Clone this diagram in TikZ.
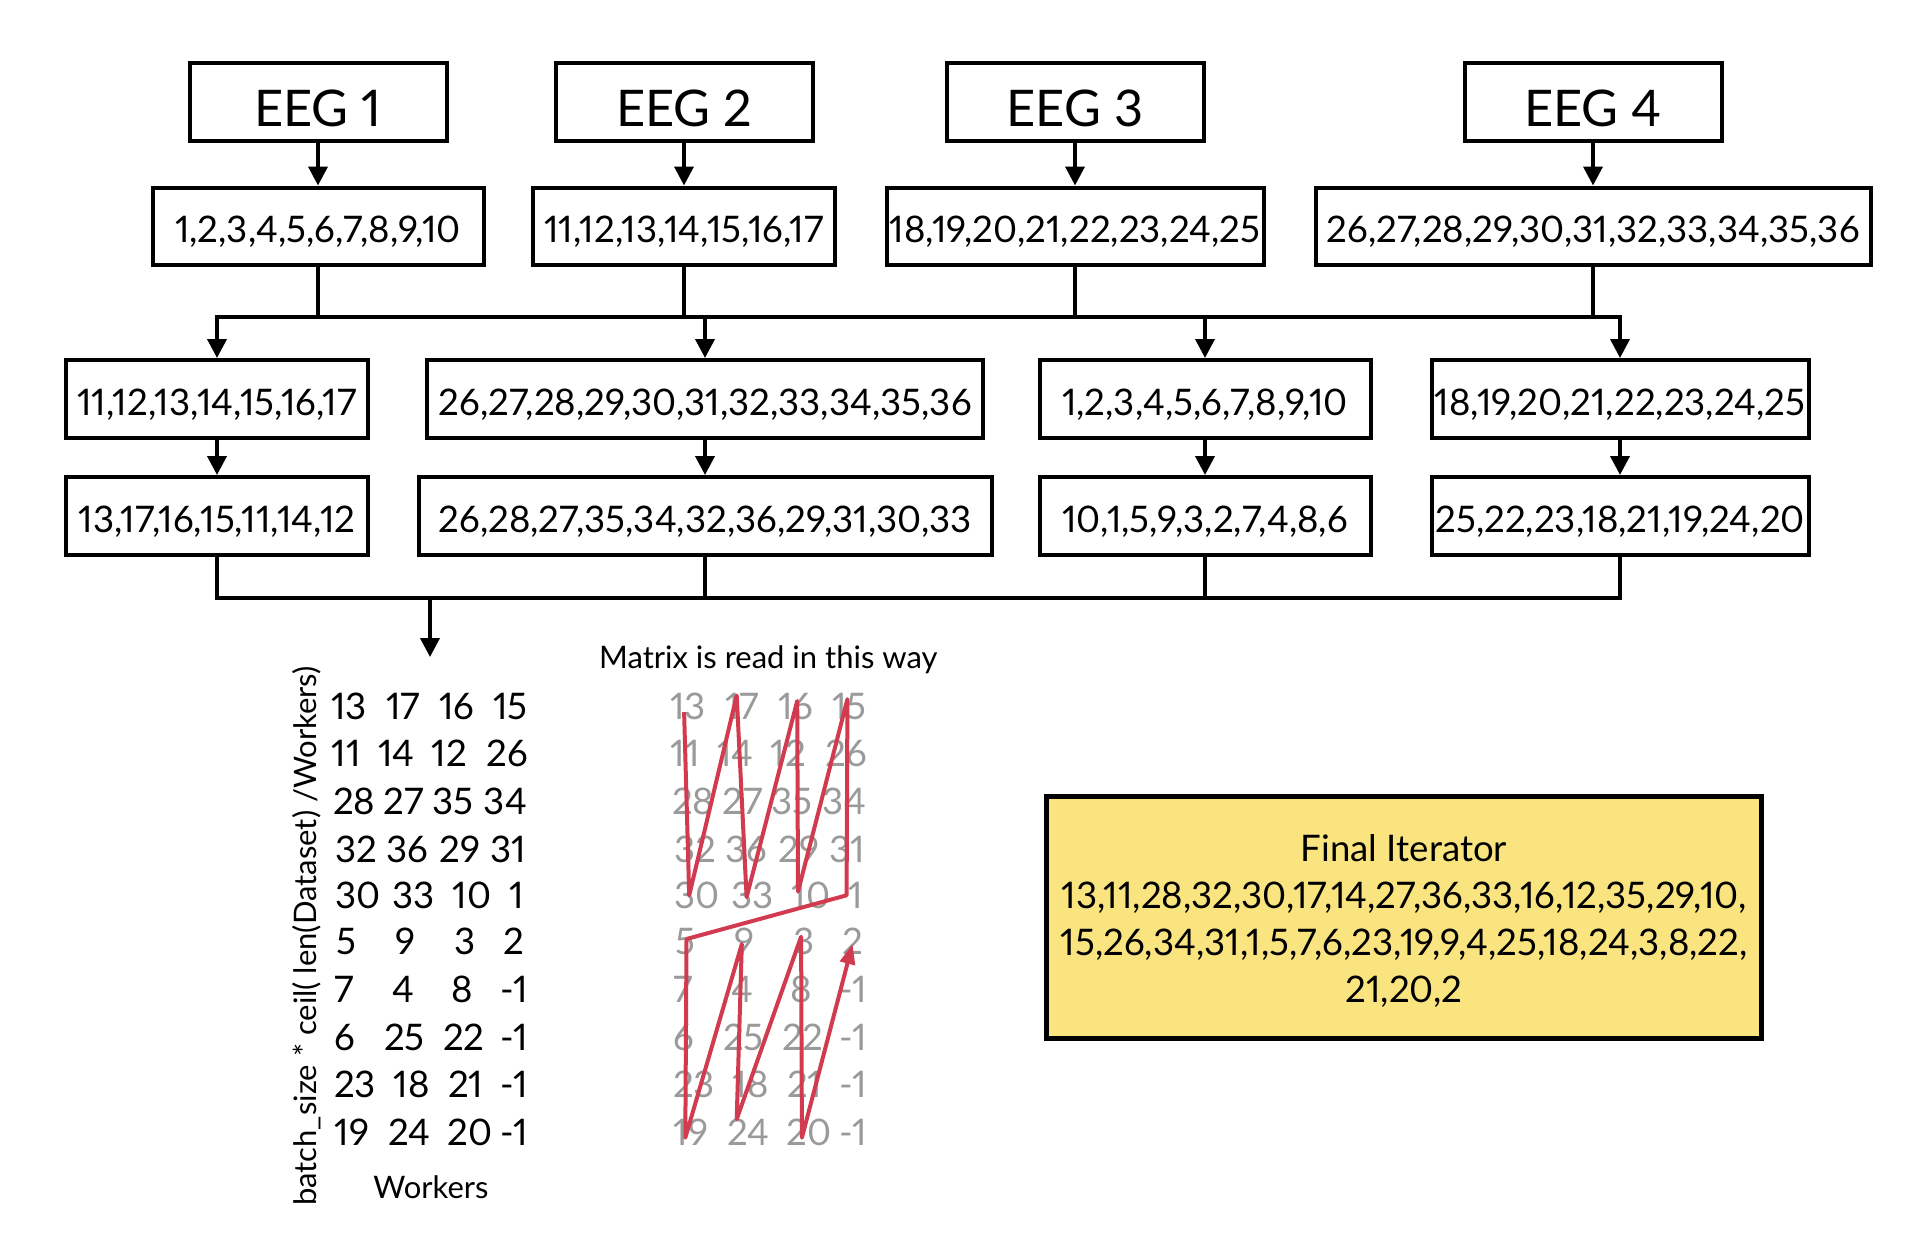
\documentclass[tikz,border=0pt]{standalone}
\usepackage{fontspec}
\setmainfont[Numbers=Proportional]{Lato}
\usetikzlibrary{arrows.meta,calc}
\definecolor{boxyellow}{HTML}{FAE47F}
\definecolor{readred}{HTML}{D23A4F}
\definecolor{numgray}{HTML}{9A9A9A}
\tikzset{
  box/.style={draw=black,line width=4pt,fill=white,inner sep=0pt,anchor=center},
  eegbox/.style={box,minimum width=257pt,minimum height=78pt,text height=48pt,text depth=0pt,font=\fontsize{50.5}{60}\selectfont},
  listbox/.style={box,minimum height=77pt,text height=32pt,text depth=0pt,font=\fontsize{36.6}{44}\selectfont},
  conn/.style={line width=3.8pt},
  arr/.style={line width=3.8pt,-{Triangle[length=19pt,width=19pt]}},
  cell/.style={inner sep=0pt,anchor=center,text height=26.2pt,text depth=0pt,font=\fontsize{36.6}{44}\selectfont},
  gcell/.style={cell,text=numgray},
  lbl/.style={inner sep=0pt,font=\fontsize{31}{37}\selectfont},
}
\begin{document}
\begin{tikzpicture}[x=1pt,y=-1pt]
\useasboundingbox (0,0) rectangle (1926,1242);
% EEG boxes
\node[eegbox] (eeg1) at (318,102) {EEG 1};
\node[eegbox] (eeg2) at (684,102) {EEG 2};
\node[eegbox] (eeg3) at (1075,102) {EEG 3};
\node[eegbox] (eeg4) at (1593,102) {EEG 4};
% row 2
\node[listbox,minimum width=331pt] (a) at (318,226) {1,2,3,4,5,6,7,8,9,10};
\node[listbox,minimum width=302pt] (b) at (684,226) {11,12,13,14,15,16,17};
\node[listbox,minimum width=377pt] (c) at (1075,226) {18,19,20,21,22,23,24,25};
\node[listbox,minimum width=555pt] (d) at (1593,226) {26,27,28,29,30,31,32,33,34,35,36};
% row 3
\node[listbox,minimum width=302pt,minimum height=78pt] (e) at (217,399) {11,12,13,14,15,16,17};
\node[listbox,minimum width=556pt,minimum height=78pt] (f) at (705,399) {26,27,28,29,30,31,32,33,34,35,36};
\node[listbox,minimum width=331pt,minimum height=78pt] (g) at (1205,399) {1,2,3,4,5,6,7,8,9,10};
\node[listbox,minimum width=377pt,minimum height=78pt] (h) at (1620,399) {18,19,20,21,22,23,24,25};
% row 4
\node[listbox,minimum width=302pt,minimum height=78pt] (i) at (217,516) {13,17,16,15,11,14,12};
\node[listbox,minimum width=573pt,minimum height=78pt] (j) at (705,516) {26,28,27,35,34,32,36,29,31,30,33};
\node[listbox,minimum width=331pt,minimum height=78pt] (k) at (1205,516) {10,1,5,9,3,2,7,4,8,6};
\node[listbox,minimum width=377pt,minimum height=78pt] (l) at (1620,516) {25,22,23,18,21,19,24,20};
% arrows EEG -> row 2
\draw[arr] (eeg1.south) -- (a.north);
\draw[arr] (eeg2.south) -- (b.north);
\draw[arr] (eeg3.south) -- (c.north);
\draw[arr] (eeg4.south) -- (d.north);
% bus 1
\coordinate (bus1) at (0,317);
\draw[conn] (a.south) -- (a.south |- bus1);
\draw[conn] (b.south) -- (b.south |- bus1);
\draw[conn] (c.south) -- (c.south |- bus1);
\draw[conn] (d.south) -- (d.south |- bus1);
\draw[conn,line cap=rect] (e.north |- bus1) -- (h.north |- bus1);
\draw[arr] (e.north |- bus1) -- (e.north);
\draw[arr] (f.north |- bus1) -- (f.north);
\draw[arr] (g.north |- bus1) -- (g.north);
\draw[arr] (h.north |- bus1) -- (h.north);
% row 3 -> row 4
\draw[arr] (e.south) -- (i.north);
\draw[arr] (f.south) -- (j.north);
\draw[arr] (g.south) -- (k.north);
\draw[arr] (h.south) -- (l.north);
% bus 2
\coordinate (bus2) at (0,598);
\draw[conn] (i.south) -- (i.south |- bus2);
\draw[conn] (j.south) -- (j.south |- bus2);
\draw[conn] (k.south) -- (k.south |- bus2);
\draw[conn] (l.south) -- (l.south |- bus2);
\draw[conn,line cap=rect] (i.south |- bus2) -- (l.south |- bus2);
\coordinate (busdrop) at (430,598);
\coordinate (matrixtop) at (430,657);
\draw[arr] (busdrop) -- (matrixtop);
% matrix (left) and its grey copy
\foreach \r/\y/\a/\xa/\b/\xb/\c/\xc/\d/\xd in {
 1/706.6/13/349.2/17/403.4/16/456.7/15/510.5,
 2/752.9/11/346.4/14/396.6/12/449.2/26/507.4,
 3/801.0/28/354.3/27/403.4/35/453.2/34/505.4,
 4/849.1/32/356.3/36/407.3/29/459.9/31/508.1,
 5/895.3/30/358.3/33/413.2/10/471.8/1/517.2,
 6/941.6/5/346.4/9/405.7/3/465.0/2/514.1,
 7/989.7/7/344.1/4/403.4/8/462.7/-1/514.1,
 8/1037.8/6/345.2/25/404.5/22/463.9/-1/514.1,
 9/1084.0/23/355.1/18/411.7/21/465.8/-1/514.1,
 10/1132.1/19/352.0/24/409.3/20/469.8/-1/514.1}{
  \node[cell] (m-\r-1) at (\xa,\y) {\a};
  \node[cell] (m-\r-2) at (\xb,\y) {\b};
  \node[cell] (m-\r-3) at (\xc,\y) {\c};
  \node[cell] (m-\r-4) at (\xd,\y) {\d};
  \node[gcell] (g-\r-1) at (\xa+339,\y) {\a};
  \node[gcell] (g-\r-2) at (\xb+339,\y) {\b};
  \node[gcell] (g-\r-3) at (\xc+339,\y) {\c};
  \node[gcell] (g-\r-4) at (\xd+339,\y) {\d};
}
\node[lbl,rotate=90] (rowlabel) at (307,936) {batch\_size * ceil( len(Dataset) /Workers)};
\node[lbl] (collabel) at (431,1187) {Workers};
\node[lbl,anchor=west] (readlabel) at (599,660) {Matrix is read in this way};
% reading path
\draw[readred,line width=4pt,line join=round,-{Triangle[length=20pt,width=15pt]}]
  (684.1,712.2) -- (689.2,895.3) -- (736.7,695.5) -- (746.6,897.2)
  -- (797.2,701.0) -- (798.0,891.6) -- (847.4,699.2) -- (846.6,895.3)
  -- (686.5,939.0) -- (685.3,1137.7) -- (741.8,944.1) -- (736.7,1119.2)
  -- (801.1,936.7) -- (801.9,1137.7) -- (852.5,944.1);
% final iterator
\node[draw=black,line width=5pt,fill=boxyellow,minimum width=715pt,minimum height=242pt,
      inner sep=0pt] (final) at (1404,917) {};
\node[align=center,inner sep=0pt,font=\fontsize{36.6}{47.3}\selectfont] (finaltext) at ($(final.center)+(0,4)$)
  {Final Iterator\\13,11,28,32,30,17,14,27,36,33,16,12,35,29,10,\\15,26,34,31,1,5,7,6,23,19,9,4,25,18,24,3,8,22,\\21,20,2};
\end{tikzpicture}
\end{document}
